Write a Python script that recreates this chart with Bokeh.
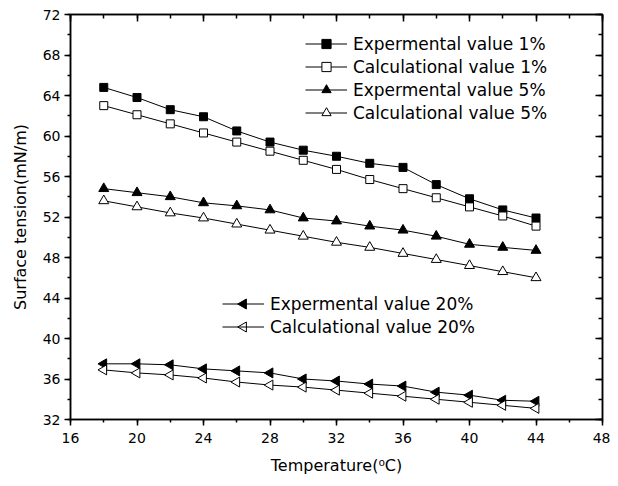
import math
from bokeh.plotting import figure
from bokeh.models import Range1d, LinearAxis, Legend, LegendItem, SingleIntervalTicker
from bokeh.embed import file_html
from bokeh.resources import INLINE

temperature = [18, 20, 22, 24, 26, 28, 30, 32, 34, 36, 38, 40, 42, 44]
exp_1 = [64.8, 63.8, 62.6, 61.9, 60.5, 59.4, 58.6, 58.0, 57.3, 56.9, 55.2, 53.8, 52.7, 51.9]
calc_1 = [63.0, 62.1, 61.2, 60.3, 59.4, 58.5, 57.6, 56.7, 55.7, 54.8, 53.9, 53.0, 52.1, 51.1]
exp_5 = [54.8, 54.4, 54.0, 53.4, 53.1, 52.7, 51.9, 51.6, 51.1, 50.7, 50.1, 49.3, 49.0, 48.7]
calc_5 = [53.6, 53.0, 52.4, 51.9, 51.3, 50.7, 50.1, 49.5, 49.0, 48.4, 47.8, 47.2, 46.6, 46.0]
exp_20 = [37.5, 37.5, 37.4, 37.0, 36.8, 36.6, 36.0, 35.8, 35.5, 35.3, 34.7, 34.4, 33.9, 33.8]
calc_20 = [36.9, 36.6, 36.4, 36.1, 35.7, 35.4, 35.2, 34.9, 34.6, 34.3, 34.0, 33.7, 33.4, 33.1]

labels_a = ["Expermental value 1%", "Calculational value 1%",
            "Expermental value 5%", "Calculational value 5%"]
labels_b = ["Expermental value 20%", "Calculational value 20%"]

FONT = "DejaVu Sans"
X0, X1, Y0, Y1 = 16, 48, 32, 72
W, H = 610, 478
ML, MR, MT, MB = 70, 8, 14, 59
FW, FH = W - ML - MR, H - MT - MB

p = figure(width=W, height=H, output_backend="svg", toolbar_location=None,
           x_range=Range1d(X0, X1), y_range=Range1d(Y0, Y1),
           x_axis_type=None, y_axis_type=None,
           min_border_left=ML, min_border_right=MR, min_border_top=MT, min_border_bottom=MB)
p.grid.visible = False
p.outline_line_color = "black"
p.outline_line_width = 1.5
p.background_fill_color = "white"

def make_axis(interval, show_labels, tick_in, tick_out, minor_in, minor_out, label=None):
    ax = LinearAxis(ticker=SingleIntervalTicker(interval=interval, num_minor_ticks=2))
    ax.axis_line_width = 1.5
    ax.axis_line_color = "black"
    ax.major_tick_line_width = 1.5
    ax.minor_tick_line_width = 1.5
    ax.major_tick_in = tick_in
    ax.major_tick_out = tick_out
    ax.minor_tick_in = minor_in
    ax.minor_tick_out = minor_out
    if show_labels:
        ax.major_label_text_font = FONT
        ax.major_label_text_font_size = "14px"
        ax.major_label_text_color = "black"
    else:
        ax.major_label_text_font_size = "0px"
        ax.major_label_text_color = None
        ax.major_label_standoff = 0
    if label:
        ax.axis_label = label
        ax.axis_label_text_font = FONT
        ax.axis_label_text_font_size = "16px"
        ax.axis_label_text_font_style = "normal"
        ax.axis_label_text_color = "black"
    return ax

xb = make_axis(4, True, 0, 6, 0, 3, "Temperature(\u2070C)")
xb.major_label_standoff = 7
xb.axis_label_standoff = 10
yl = make_axis(4, True, 0, 6, 0, 3, "Surface tension(mN/m)")
yl.major_label_standoff = 4
yl.axis_label_standoff = 10
xt = make_axis(4, False, 7, 0, 4, 0)
yr = make_axis(4, False, 7, 0, 4, 0)
p.add_layout(xb, "below")
p.add_layout(yl, "left")
p.add_layout(xt, "above")
p.add_layout(yr, "right")

series = [
    (exp_1, "square", "black", 0.0, 8),
    (calc_1, "square", "white", 0.0, 8),
    (exp_5, "triangle", "black", 0.0, 10),
    (calc_5, "triangle", "white", 0.0, 10),
    (exp_20, "triangle", "black", math.pi / 2, 10),
    (calc_20, "triangle", "white", math.pi / 2, 10),
]
lines, marks = [], []
for vals, marker, fill, ang, size in series:
    ln = p.line(temperature, vals, line_color="black", line_width=1)
    sc = p.scatter(temperature, vals, marker=marker, size=size, fill_color=fill,
                   line_color="black", line_width=1, angle=ang)
    lines.append(ln)
    marks.append(sc)

GLYPH_W, ROW_H, SPACING = 42, 23, 0

def make_legend(labels, rends, loc):
    lg = Legend(items=[LegendItem(label=l, renderers=r) for l, r in zip(labels, rends)],
                location=loc, orientation="vertical")
    lg.background_fill_alpha = 0
    lg.border_line_color = None
    lg.padding = 0
    lg.margin = 0
    lg.spacing = SPACING
    lg.glyph_width = GLYPH_W
    lg.glyph_height = ROW_H
    lg.label_height = ROW_H
    lg.label_standoff = 6
    lg.label_text_font = FONT
    lg.label_text_font_size = "17px"
    lg.label_text_color = "black"
    lg.label_text_baseline = "middle"
    return lg

# legend 1: squares / upward triangles (legend draws them itself)
p.add_layout(make_legend(labels_a, [[lines[i], marks[i]] for i in range(4)], (235, 295)))

# legend 2: left-pointing triangles; Bokeh legends ignore marker angle,
# so the legend draws the lines and the rotated markers are placed on the glyph centres
LEG2 = (152, 81)
p.add_layout(make_legend(labels_b, [[lines[4]], [lines[5]]], LEG2))
n_rows = 2
box_top_from_bottom = LEG2[1] + n_rows * ROW_H + (n_rows - 1) * SPACING
leg_x = X0 + (LEG2[0] + GLYPH_W / 2) / FW * (X1 - X0)
leg_ys = [Y0 + (box_top_from_bottom - ROW_H / 2 - k * (ROW_H + SPACING)) / FH * (Y1 - Y0)
          for k in range(n_rows)]
for k, idx in enumerate([4, 5]):
    _, marker, fill, ang, size = series[idx]
    p.scatter([leg_x], [leg_ys[k]], marker=marker, size=size, fill_color=fill,
              line_color="black", line_width=1, angle=ang)

open("out.html", "w").write(file_html(p, INLINE))
